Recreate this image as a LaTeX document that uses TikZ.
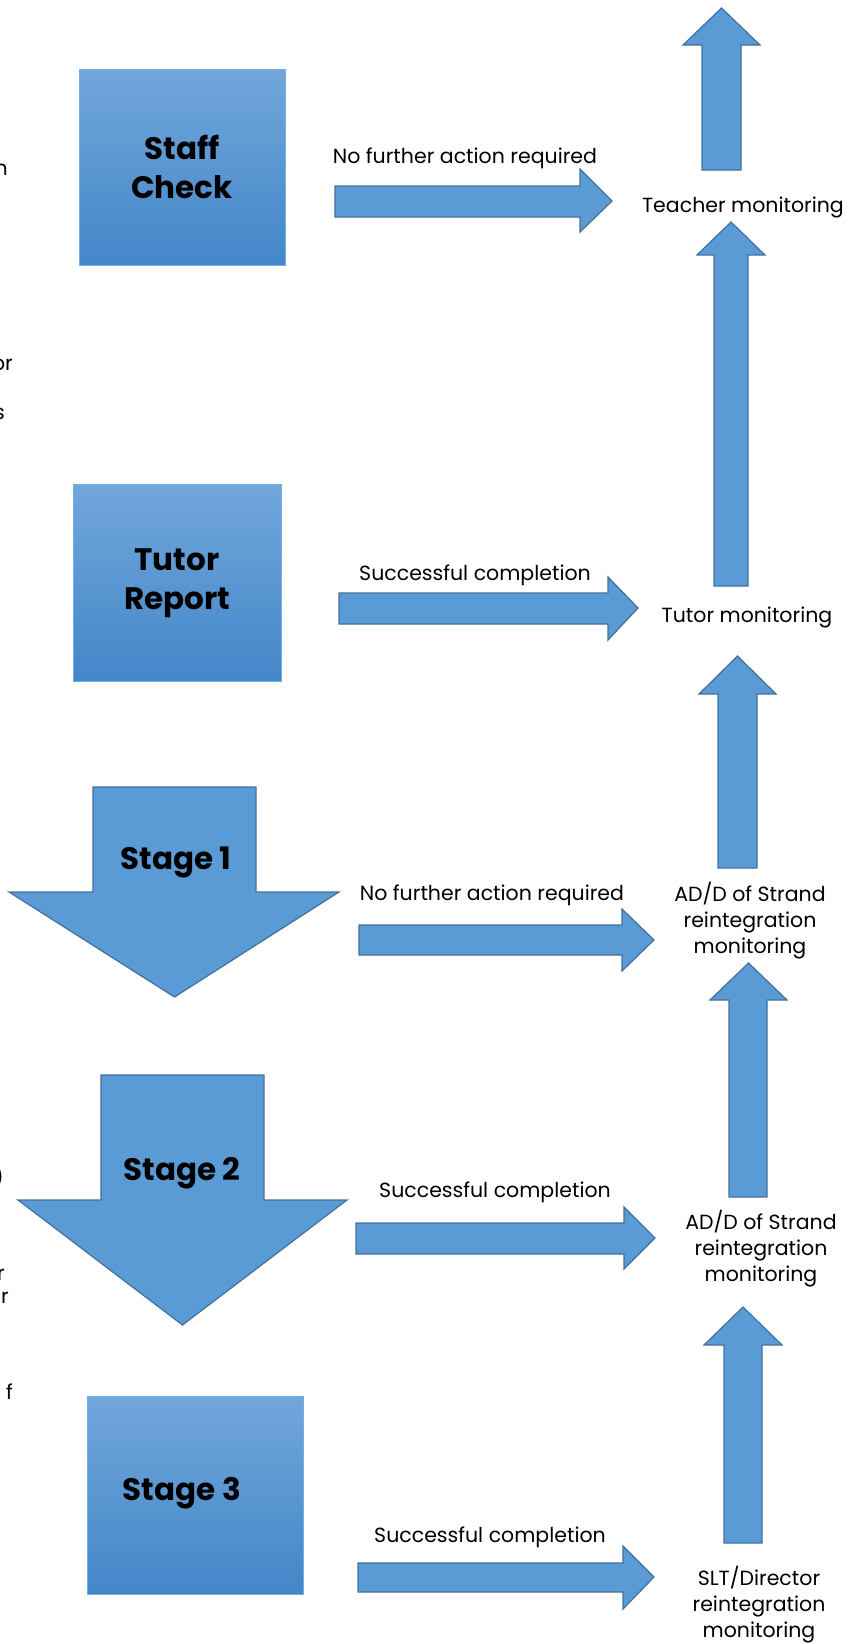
\documentclass[tikz,border=0pt]{standalone}
\usepackage{fontspec}
\setmainfont{Poppins}
\usepackage{xcolor}
\usetikzlibrary{positioning}
\definecolor{arrowblue}{HTML}{5B9BD5}
\definecolor{arrowline}{HTML}{41719C}
\definecolor{boxtop}{HTML}{71A7DB}
\definecolor{boxbot}{HTML}{4386C8}
\definecolor{boxline}{HTML}{74AEE4}

\begin{document}
\begin{tikzpicture}[x=1pt,y=-1pt,font=\fontsize{20.5}{26}\selectfont,
	blockarrow/.style={fill=arrowblue,draw=arrowline,line width=1.2pt,line join=miter},
	stagebox/.style={top color=boxtop,bottom color=boxbot,draw=boxline,line width=1pt,align=center,font=\fontsize{31}{39}\selectfont\bfseries},
	stagetext/.style={font=\fontsize{31}{39}\selectfont\bfseries},
	monitor/.style={align=center,inner sep=0pt}]
			\useasboundingbox (0,0) rectangle (858,1644);
			% draw boxes
			\node[stagebox,minimum width=206,minimum height=196] (staff) at (182,167) {Staff\\Check};
			\node[stagebox,minimum width=208,minimum height=197] (tutor) at (177,583) {Tutor\\Report};
			\node[stagebox,minimum width=216,minimum height=198] (stagethree) at (195,1495) {};
			\node[stagetext] (stagethreetxt) at (182,1493) {Stage 3};
			
			% draw down arrows
			\draw[blockarrow] (93,787) -- (256,787) -- (256,892) -- (339,892) -- (174.5,997) -- (9,892) -- (93,892) -- cycle;
			\draw[blockarrow] (101,1075) -- (264,1075) -- (264,1200) -- (347,1200) -- (182.5,1325) -- (18,1200) -- (101,1200) -- cycle;
			\node[stagetext] (stageone) at (176,862) {Stage 1};
			\node[stagetext] (stagetwo) at (182,1173) {Stage 2};
			
			% draw right arrows
			\draw[blockarrow] (335,186) -- (580,186) -- (580,169) -- (612,201) -- (580,232) -- (580,217) -- (335,217) -- cycle;
			\draw[blockarrow] (339,593) -- (608,593) -- (608,577) -- (638,608) -- (608,640) -- (608,624) -- (339,624) -- cycle;
			\draw[blockarrow] (359,925) -- (622,925) -- (622,909) -- (654,940) -- (622,971) -- (622,955) -- (359,955) -- cycle;
			\draw[blockarrow] (356,1223) -- (624,1223) -- (624,1207) -- (655,1238) -- (624,1269) -- (624,1254) -- (356,1254) -- cycle;
			\draw[blockarrow] (358,1563) -- (623,1563) -- (623,1546) -- (654,1577) -- (623,1609) -- (623,1592) -- (358,1592) -- cycle;
			
			% draw up arrows
			\draw[blockarrow] (702,170) -- (702,45) -- (683,45) -- (721.5,8) -- (760,45) -- (741,45) -- (741,170) -- cycle;
			\draw[blockarrow] (714,586) -- (714,255) -- (697,255) -- (731,222) -- (765,255) -- (748,255) -- (748,586) -- cycle;
			\draw[blockarrow] (718,868) -- (718,694) -- (699,694) -- (737.5,656) -- (776,694) -- (757,694) -- (757,868) -- cycle;
			\draw[blockarrow] (729,1197) -- (729,1000) -- (710,1000) -- (748.5,963) -- (787,1000) -- (767,1000) -- (767,1197) -- cycle;
			\draw[blockarrow] (724,1543) -- (724,1345) -- (704,1345) -- (743,1307) -- (782,1345) -- (762,1345) -- (762,1543) -- cycle;
			
			% arrow labels
			\node (nfastaff) at (465,158) {No further action required};
			\node (sctutor) at (475,575) {Successful completion};
			\node (nfaone) at (492,895) {No further action required};
			\node (sctwo) at (495,1192) {Successful completion};
			\node (scthree) at (490,1537) {Successful completion};
			
			% monitoring
			\node[monitor] (teacher) at (743,207) {Teacher monitoring};
			\node[monitor] (tutormon) at (747,617) {Tutor monitoring};
			\node[monitor] (adone) at (750,921) {AD/D of Strand\\reintegration\\monitoring};
			\node[monitor] (adtwo) at (761,1249) {AD/D of Strand\\reintegration\\monitoring};
			\node[monitor] (slt) at (759,1605) {SLT/Director\\reintegration\\monitoring};
			
			% cut-off text at left edge
			\node[anchor=east,inner sep=0pt] (cutn) at (8,170) {n};
			\node[anchor=east,inner sep=0pt] (cutor) at (13,365) {or};
			\node[anchor=east,inner sep=0pt] (cuts) at (5,414) {s};
			\node[anchor=east,inner sep=0pt] (cutpar) at (4,1177) {)};
			\node[anchor=east,inner sep=0pt] (cutr) at (5,1275) {r};
			\node[anchor=east,inner sep=0pt] (cuter) at (9,1298) {er};
			\node[anchor=east,inner sep=0pt] (cutf) at (13,1392) {f};
		\end{tikzpicture}
\end{document}
